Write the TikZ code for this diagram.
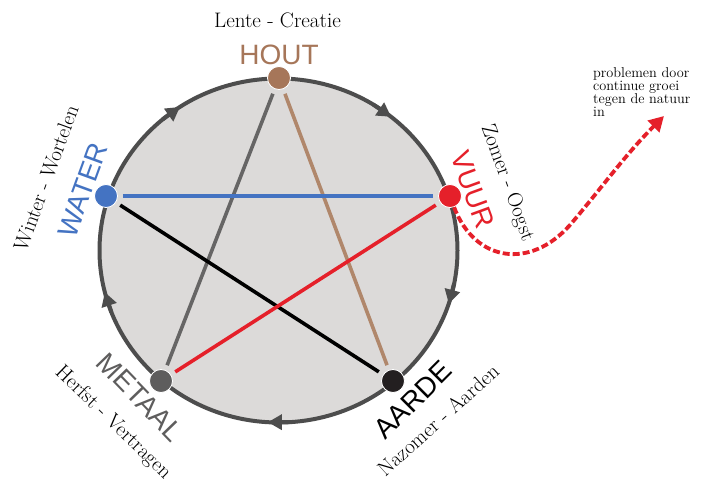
\documentclass[tikz,border=0pt]{standalone}
\usepackage{fontspec}
\newfontfamily\lsans{Liberation Sans}
\usetikzlibrary{arrows.meta}
\definecolor{ringfill}{HTML}{DCDAD9}
\definecolor{ringline}{HTML}{4D4D4D}
\definecolor{houtc}{HTML}{A67659}
\definecolor{houtline}{HTML}{B0876B}
\definecolor{waterc}{HTML}{4473C2}
\definecolor{vuurc}{HTML}{E5202A}
\definecolor{metaalc}{HTML}{5E5D5D}
\definecolor{metaalline}{HTML}{666565}
\definecolor{aardec}{HTML}{231F20}
\begin{document}
\begin{tikzpicture}[x=1pt,y=-1pt,
  dot/.style={circle, inner sep=0pt, minimum size=23pt, draw=white, line width=0.8pt},
  elem/.style={font=\lsans\fontsize{28}{28}\selectfont, inner sep=0pt},
  season/.style={font=\fontsize{21}{22}\selectfont, inner sep=0pt},
  link/.style={line width=3.6pt, shorten <=5pt, shorten >=5pt},
  cyc/.style={draw=ringline, line width=4pt, -{Triangle[length=14pt,width=15pt]}}
]
\useasboundingbox (0,0) rectangle (702,484);
\fill[white] (0,0) rectangle (702,484);
\path[fill=ringfill, draw=ringline, line width=4pt] (278.5,250.5) ellipse [x radius=179, y radius=172];
\foreach \a in {123.4, 51, -18, -93.4, -166} {
  \draw[cyc] ({278.5+179*cos(\a+7)},{250.5-172*sin(\a+7)}) -- ({278.5+179*cos(\a)},{250.5-172*sin(\a)});
}
\node[dot, fill=houtc] (hout) at (279,78) {};
\node[dot, fill=waterc] (water) at (106,196) {};
\node[dot, fill=vuurc] (vuur) at (450,196) {};
\node[dot, fill=metaalc] (metaal) at (161,381) {};
\node[dot, fill=aardec] (aarde) at (393,381) {};
\draw[link, metaalline] (hout) -- (metaal);
\draw[link, houtline] (hout) -- (aarde);
\draw[link, black] (water) -- (aarde);
\draw[link, waterc] (water) -- (vuur);
\draw[link, vuurc] (metaal) -- (vuur);
\node[season, anchor=base] (lente) at (277.5,28) {Lente - Creatie};
\node[elem, text=houtc, anchor=base] (houtlbl) at (279,65) {HOUT};
\node[elem, text=waterc, rotate=70] (waterlbl) at (83,190) {WATER};
\node[season, rotate=70] (winter) at (46,178) {Winter - Wortelen};
\node[elem, text=vuurc, rotate=-70] (vuurlbl) at (473,190) {VUUR};
\node[season, rotate=-70] (zomer) at (507,183) {Zomer - Oogst};
\node[elem, text=metaalc, rotate=-46] (metaallbl) at (140,397) {METAAL};
\node[season, rotate=-44] (herfst) at (113,423) {Herfst - Vertragen};
\node[elem, text=black, rotate=45] (aardelbl) at (413,400) {AARDE};
\node[season, rotate=42] (nazomer) at (438,420) {Nazomer - Aarden};
\node[anchor=north west, align=left, inner sep=0pt, font=\fontsize{14.3}{13}\selectfont] (note) at (593,67) {problemen door\\continue groei\\tegen de natuur\\in};
\coordinate (tip) at (664,116);
\draw[vuurc, line width=3.8pt, dash pattern=on 7pt off 3pt, -{Triangle[length=15pt,width=16pt]}] (vuur.-70) .. controls (475,262) and (530,270) .. (570,225) .. controls (600,190) and (625,155) .. (tip);
\end{tikzpicture}
\end{document}
